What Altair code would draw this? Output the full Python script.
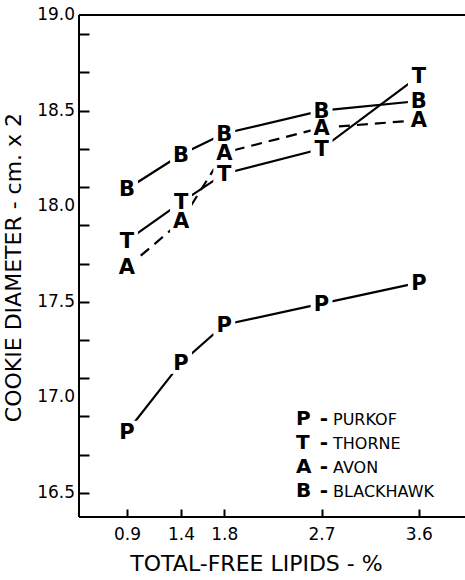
import altair as alt
import pandas as pd

# ---- data ----
lipids = [0.9, 1.4, 1.8, 2.7, 3.6]
purkof = [16.82, 17.18, 17.38, 17.49, 17.60]
thorne = [17.82, 18.02, 18.17, 18.30, 18.68]
avon = [17.68, 17.92, 18.28, 18.41, 18.45]
blackhawk = [18.09, 18.27, 18.38, 18.50, 18.55]

series_names = ["PURKOF", "THORNE", "AVON", "BLACKHAWK"]
series_letters = ["P", "T", "A", "B"]
series_values = [purkof, thorne, avon, blackhawk]

y_tick_values = [16.5, 16.6, 16.7, 16.8, 16.9, 17.0, 17.1, 17.2, 17.3, 17.4,
                 17.5, 17.6, 17.7, 17.8, 17.9, 18.0, 18.1, 18.2, 18.3, 18.4,
                 18.5, 18.6, 18.7, 18.8, 18.9, 19.0]
y_label_values = [16.5, 17.0, 17.5, 18.0, 18.5, 19.0]
y_label_texts = ["16.5", "17.0", "17.5", "18.0", "18.5", "19.0"]
x_ticks = [0.9, 1.4, 1.8, 2.7, 3.6]

X_DOM = [0.456, 4.027]
Y_DOM = [16.374, 19.0]

rows = []
for name, letter, vals in zip(series_names, series_letters, series_values):
    for x, y in zip(lipids, vals):
        rows.append({"series": name, "letter": letter, "lipids": x, "diam": y})
df = pd.DataFrame(rows)

ylab_df = pd.DataFrame({"diam": y_label_values, "lab": y_label_texts})
one = pd.DataFrame({"k": [0]})

W, H = 386, 502
FONT = "DejaVu Sans"
YT, XT = 10, 8   # inward tick lengths

xscale = alt.Scale(domain=X_DOM, nice=False, zero=False)
yscale = alt.Scale(domain=Y_DOM, nice=False, zero=False)

base = alt.Chart(df)

# axes are shifted inward by the tick length so that their ticks point inward
x_enc = alt.X(
    "lipids:Q", scale=xscale,
    axis=alt.Axis(
        values=x_ticks, format=".1f", grid=False, domain=False,
        offset=-XT, ticks=True, tickSize=XT, tickWidth=2, tickColor="black",
        labelPadding=9, labelFontSize=17, labelFont=FONT, labelColor="black",
        labelFlush=False, labelOverlap=False,
        title="TOTAL-FREE LIPIDS - %", titleFont=FONT, titleFontSize=22,
        titleFontWeight="normal", titleColor="black",
        titleX=177, titleY=46 + XT, titleAnchor="middle", titleAlign="center",
        titleBaseline="middle",
    ),
)
y_enc = alt.Y(
    "diam:Q", scale=yscale,
    axis=alt.Axis(
        values=y_tick_values, grid=False, domain=False, labels=False,
        offset=-YT, ticks=True, tickSize=YT, tickWidth=2, tickColor="black",
        title="COOKIE DIAMETER - cm. x 2", titleFont=FONT, titleFontSize=22,
        titleFontWeight="normal", titleColor="black",
        titleAngle=270, titleX=-66 - YT, titleY=252, titleAlign="center",
        titleBaseline="middle",
    ),
)

solid_lines = base.transform_filter(
    alt.datum.series != "AVON"
).mark_line(color="black", strokeWidth=2.2).encode(
    x=x_enc, y=y_enc, detail="series:N", order="lipids:Q"
)
dashed_line = base.transform_filter(
    alt.datum.series == "AVON"
).mark_line(color="black", strokeWidth=2.2, strokeDash=[11, 7]).encode(
    x="lipids:Q", y="diam:Q", order="lipids:Q"
)
masks = base.mark_point(
    shape="square", filled=True, color="white", opacity=1, size=480
).encode(x="lipids:Q", y="diam:Q")
letters = base.mark_text(
    font=FONT, fontSize=21, fontWeight="bold", color="black",
    align="center", baseline="middle", dy=1
).encode(x="lipids:Q", y="diam:Q", text="letter:N")

# y tick labels
ylabels = alt.Chart(ylab_df).mark_text(
    font=FONT, fontSize=17, color="black", align="right", baseline="middle"
).encode(x=alt.value(-4), y="diam:Q", text="lab:N")

# frame lines: left axis line, bottom axis line, top line
left_line = alt.Chart(one).mark_rule(color="black", strokeWidth=2).encode(
    x=alt.value(0), y=alt.value(0), y2=alt.value(H)
)
bottom_line = alt.Chart(one).mark_rule(color="black", strokeWidth=2).encode(
    x=alt.value(0), x2=alt.value(W), y=alt.value(H)
)
top_line = alt.Chart(one).mark_rule(color="black", strokeWidth=2).encode(
    x=alt.value(0), x2=alt.value(W), y=alt.value(0)
)

# key (multi-line text columns)
LEG_TOP = 394
leg_letters = alt.Chart(one).mark_text(
    font=FONT, fontSize=20, fontWeight="bold", color="black",
    align="left", baseline="top", lineBreak="\n", lineHeight=24
).encode(x=alt.value(217), y=alt.value(LEG_TOP),
         text=alt.value("\n".join(series_letters)))
leg_dash = alt.Chart(one).mark_text(
    font=FONT, fontSize=20, fontWeight="bold", color="black",
    align="center", baseline="top", lineBreak="\n", lineHeight=24
).encode(x=alt.value(245), y=alt.value(LEG_TOP),
         text=alt.value("\n".join(["-"] * len(series_names))))
leg_names = alt.Chart(one).mark_text(
    font=FONT, fontSize=16, color="black",
    align="left", baseline="top", lineBreak="\n", lineHeight=24, dy=3
).encode(x=alt.value(254), y=alt.value(LEG_TOP),
         text=alt.value("\n".join(series_names)))

chart = alt.layer(
    solid_lines, dashed_line, masks, letters, ylabels,
    left_line, bottom_line, top_line,
    leg_letters, leg_dash, leg_names,
).properties(
    width=W, height=H,
    padding={"left": 79, "top": 15, "right": 0, "bottom": 63},
    autosize=alt.AutoSizeParams(type="none"),
).configure_view(stroke=None).configure(background="white")

chart.save("out.html", embed_options={"renderer": "svg", "actions": False})
